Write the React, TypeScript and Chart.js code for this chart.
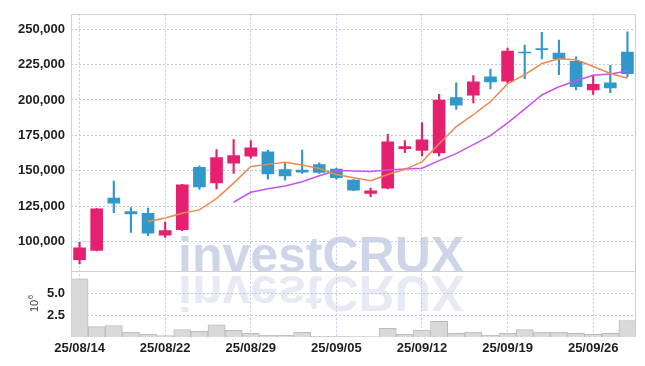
import React, { useEffect, useRef } from 'react';
import { Chart, registerables } from 'chart.js';

Chart.register(...registerables);

const dates = [
  '25/08/14', '25/08/18', '25/08/19', '25/08/20', '25/08/21', '25/08/22',
  '25/08/25', '25/08/26', '25/08/27', '25/08/28', '25/08/29',
  '25/09/01', '25/09/02', '25/09/03', '25/09/04', '25/09/05',
  '25/09/08', '25/09/09', '25/09/10', '25/09/11', '25/09/12',
  '25/09/15', '25/09/16', '25/09/17', '25/09/18', '25/09/19',
  '25/09/22', '25/09/23', '25/09/24', '25/09/25', '25/09/26',
  '25/09/29', '25/09/30',
];

const openPrices = [87400, 93900, 130900, 121400, 120000, 104700, 108500, 152600, 141500, 155400, 160300, 163500, 151000, 150500, 154500, 151200, 143600, 134200, 137800, 165600, 164400, 162600, 201700, 203300, 216300, 213300, 233700, 236200, 233000, 227200, 207100, 212100, 233700];
const closePrices = [95700, 123300, 127200, 119600, 106100, 108000, 140100, 138700, 159400, 160800, 166300, 147800, 146400, 149100, 148900, 145200, 136400, 136000, 170500, 167200, 171900, 199900, 196400, 212800, 212800, 234400, 233200, 235500, 229000, 209300, 211000, 208500, 218600];
const highPrices = [99700, 123500, 142900, 124200, 123700, 114000, 140500, 153600, 165100, 172100, 171400, 164700, 155900, 164700, 155700, 151900, 143900, 137800, 175800, 171400, 184100, 204000, 212100, 217200, 221700, 236500, 238700, 247600, 242200, 230400, 217500, 224400, 248000];
const lowPrices = [84400, 93500, 120500, 106600, 104300, 103100, 107800, 136900, 137300, 148300, 158900, 144100, 143400, 148300, 148300, 144100, 136000, 131800, 137300, 162800, 160500, 160500, 193400, 198000, 207800, 212100, 215100, 229000, 217900, 207000, 204000, 205200, 216300];

const ma5 = [null, null, null, null, 114400, 116800, 120200, 122500, 130500, 141400, 153100, 154600, 156100, 154100, 151700, 147500, 145200, 143100, 147400, 151100, 156400, 169100, 181200, 189600, 198800, 211300, 217900, 225700, 229000, 228300, 223600, 218700, 215300];
const ma10 = [null, null, null, null, null, null, null, null, null, 127900, 134900, 137400, 139300, 142300, 146600, 150300, 149900, 149600, 150700, 151400, 151900, 157200, 162200, 168500, 174900, 183800, 193500, 203500, 209300, 213500, 217400, 218300, 220500];

// volume in millions (10^6)
const volumes = [6.7, 1.2, 1.33, 0.57, 0.3, 0.15, 0.87, 0.65, 1.4, 0.76, 0.42, 0.19, 0.19, 0.53, 0.08, 0.08, 0.04, 0.04, 1.0, 0.3, 0.8, 1.8, 0.42, 0.57, 0.19, 0.42, 0.87, 0.57, 0.57, 0.42, 0.3, 0.42, 1.9];

const priceTicks = [100000, 125000, 150000, 175000, 200000, 225000, 250000];
const volumeTicks = [2.5, 5.0];

const UP = '#e5206e';
const DOWN = '#3297c9';
const GRID = '#c3c9df';
const FRAME = '#d0d0d0';
const LABEL_FONT = "'Liberation Sans Narrow', 'Liberation Sans', Arial, sans-serif";

export default function App() {
  const ref = useRef<HTMLCanvasElement>(null);

  useEffect(() => {
    if (!ref.current) return;
    const bodies = openPrices.map((o, i) => [o, closePrices[i]]);
    const wicks = lowPrices.map((l, i) => [l, highPrices[i]]);
    const colors = openPrices.map((o, i) => (closePrices[i] >= o ? UP : DOWN));

    const watermark = {
      id: 'watermark',
      beforeDraw(chart: any) {
        const { ctx } = chart;
        ctx.save();
        ctx.font = "bold 50px 'Liberation Sans', Arial, sans-serif";
        ctx.textAlign = 'left';
        ctx.textBaseline = 'alphabetic';
        ctx.fillStyle = 'rgba(160,172,212,0.5)';
        ctx.fillText('investCRUX', 178, 272);
        ctx.translate(0, 548);
        ctx.scale(1, -1);
        ctx.fillStyle = 'rgba(160,172,212,0.25)';
        ctx.fillText('investCRUX', 178, 272);
        ctx.restore();
      },
    };

    const frame = {
      id: 'frame',
      afterDraw(chart: any) {
        const { ctx, chartArea } = chart;
        const yScale = chart.scales.y;
        ctx.save();
        ctx.strokeStyle = FRAME;
        ctx.lineWidth = 1;
        ctx.beginPath();
        const l = Math.round(chartArea.left) + 0.5;
        const r = Math.round(chartArea.right) - 0.5;
        const t = Math.round(chartArea.top) + 0.5;
        const b = Math.round(chartArea.bottom);
        ctx.moveTo(l, b);
        ctx.lineTo(l, t);
        ctx.lineTo(r, t);
        ctx.lineTo(r, b);
        const sep = Math.round(yScale.bottom) - 0.5;
        ctx.moveTo(l, sep);
        ctx.lineTo(r, sep);
        ctx.stroke();

        // volume unit title 10^6
        ctx.translate(38, 312);
        ctx.rotate(-Math.PI / 2);
        ctx.fillStyle = '#444';
        ctx.textBaseline = 'alphabetic';
        ctx.textAlign = 'left';
        ctx.font = "11px 'Liberation Sans', Arial, sans-serif";
        ctx.fillText('10', 0, 0);
        const w = ctx.measureText('10').width;
        ctx.font = "8px 'Liberation Sans', Arial, sans-serif";
        ctx.fillText('6', w + 0.5, -5);
        ctx.restore();
      },
    };

    const tickFont = { family: LABEL_FONT, size: 13, weight: 'bold' as const };

    const chart = new Chart(ref.current, {
      type: 'bar',
      data: {
        labels: dates,
        datasets: [
          {
            type: 'line',
            data: ma5,
            borderColor: '#ee8a50',
            borderWidth: 1.5,
            pointRadius: 0,
            yAxisID: 'y',
            order: 0,
          } as any,
          {
            type: 'line',
            data: ma10,
            borderColor: '#c655ea',
            borderWidth: 1.5,
            pointRadius: 0,
            yAxisID: 'y',
            order: 0,
          } as any,
          {
            data: bodies,
            backgroundColor: colors,
            barThickness: 12,
            grouped: false,
            yAxisID: 'y',
            order: 1,
          } as any,
          {
            data: wicks,
            backgroundColor: colors,
            barThickness: 1.5,
            grouped: false,
            yAxisID: 'y',
            order: 2,
          } as any,
          {
            data: volumes,
            backgroundColor: '#d9d9d9',
            borderColor: '#bcbcbc',
            borderWidth: 1,
            categoryPercentage: 1,
            barPercentage: 1,
            grouped: false,
            yAxisID: 'yv',
            order: 3,
          } as any,
        ],
      },
      options: {
        animation: false,
        responsive: true,
        maintainAspectRatio: false,
        layout: { padding: { top: 9, right: 9, left: 0, bottom: 0 } },
        plugins: { legend: { display: false }, tooltip: { enabled: false } },
        scales: {
          x: {
            type: 'category',
            offset: true,
            grid: {
              offset: false,
              drawTicks: false,
              color: (ctx: any) => (ctx.index % 5 === 0 ? GRID : 'rgba(0,0,0,0)'),
            },
            border: { display: false, dash: [2, 2] },
            ticks: {
              autoSkip: false,
              maxRotation: 0,
              padding: 4,
              color: '#1e1e1e',
              font: tickFont,
              callback: (_v: any, i: number) => (i % 5 === 0 ? dates[i] : ''),
            },
            afterFit: (s: any) => {
              s.height = 29;
            },
          },
          yv: {
            type: 'linear',
            position: 'left',
            stack: 'main',
            stackWeight: 66,
            min: 0,
            max: 7.5,
            afterBuildTicks: (s: any) => {
              s.ticks = volumeTicks.map((v) => ({ value: v }));
            },
            grid: { color: GRID, drawTicks: false },
            border: { display: false, dash: [2, 2] },
            ticks: {
              padding: 6,
              color: '#1e1e1e',
              font: tickFont,
              callback: (v: any) => Number(v).toFixed(1),
            },
            afterFit: (s: any) => {
              s.width = 71;
            },
          },
          y: {
            type: 'linear',
            position: 'left',
            stack: 'main',
            stackWeight: 262,
            min: 78750,
            max: 260750,
            afterBuildTicks: (s: any) => {
              s.ticks = priceTicks.map((v) => ({ value: v }));
            },
            grid: { color: GRID, drawTicks: false },
            border: { display: false, dash: [2, 2] },
            ticks: {
              padding: 6,
              color: '#1e1e1e',
              font: tickFont,
              callback: (v: any) => Number(v).toLocaleString('en-US'),
            },
            afterFit: (s: any) => {
              s.width = 71;
            },
          },
        },
      } as any,
      plugins: [watermark, frame],
    });

    return () => chart.destroy();
  }, []);

  return (
    <div style={{ position: 'absolute', left: 0, top: 0, width: 645, height: 366 }}>
      <canvas ref={ref} />
    </div>
  );
}
